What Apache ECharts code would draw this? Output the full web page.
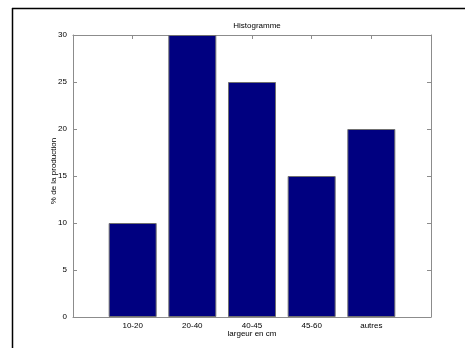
<!DOCTYPE html>
<html><head><meta charset="utf-8">
<script src="https://cdn.jsdelivr.net/npm/echarts@6/dist/echarts.min.js"></script>
<style>html,body{margin:0;padding:0;background:#fff}#c{width:465px;height:348px}</style>
</head><body><div id="c"></div>
<script>
const categories = ['10-20', '20-40', '40-45', '45-60', 'autres'];
const values = [10, 30, 25, 15, 20];
const yTicks = [0, 5, 10, 15, 20, 25, 30];
const titleText = 'Histogramme';
const xName = 'largeur en cm';
const yName = '% de la production';

const font = 'Liberation Sans, Arial, Helvetica, sans-serif';
const fs = 8;
const axisGray = '#8c8c8c';
const chart = echarts.init(document.getElementById('c'), null, {renderer: 'canvas'});
const barData = categories.map((c, i) => [i + 1, values[i]]);
const lineStyle = {show: true, onZero: false, lineStyle: {color: axisGray, width: 1}};
const tickStyle = {show: true, inside: true, length: 4, lineStyle: {color: axisGray}};
chart.setOption({
  animation: false,
  backgroundColor: '#fff',
  title: {text: titleText, left: 252, top: 17, textAlign: 'center',
    textStyle: {fontFamily: font, fontSize: fs, fontWeight: 'normal', color: '#000'}},
  grid: {left: 73, top: 35, right: 34, bottom: 31, containLabel: false},
  xAxis: [{
    type: 'value', min: 0, max: categories.length + 1, interval: 1, position: 'bottom',
    name: xName, nameLocation: 'middle', nameGap: 13, nameMoveOverlap: false,
    nameTextStyle: {fontFamily: font, fontSize: fs, color: '#000'},
    axisLine: lineStyle, axisTick: tickStyle,
    axisLabel: {fontFamily: font, fontSize: fs, color: '#000', margin: 5,
      formatter: v => (v >= 1 && v <= categories.length) ? categories[v - 1] : ''},
    splitLine: {show: false}
  }, {
    type: 'value', min: 0, max: categories.length + 1, interval: 1, position: 'top',
    axisLine: lineStyle, axisTick: tickStyle,
    axisLabel: {show: false}, splitLine: {show: false}
  }],
  yAxis: [{
    type: 'value', min: yTicks[0], max: yTicks[yTicks.length - 1], interval: 5, position: 'left',
    name: yName, nameLocation: 'middle', nameGap: 15, nameRotate: 90, nameMoveOverlap: false,
    nameTextStyle: {fontFamily: font, fontSize: fs, color: '#000', padding: [0, 0, 0, 10]},
    axisLine: lineStyle, axisTick: tickStyle,
    axisLabel: {fontFamily: font, fontSize: fs, color: '#000', margin: 6},
    splitLine: {show: false}
  }, {
    type: 'value', min: yTicks[0], max: yTicks[yTicks.length - 1], interval: 5, position: 'right',
    axisLine: lineStyle, axisTick: tickStyle,
    axisLabel: {show: false}, splitLine: {show: false}
  }],
  series: [{
    type: 'bar', xAxisIndex: 0, yAxisIndex: 0, data: barData, barWidth: 48,
    itemStyle: {color: '#000080', borderColor: '#707070', borderWidth: 1}
  }],
  graphic: [
    {type: 'line', shape: {x1: 12, y1: 8.5, x2: 465, y2: 8.5}, style: {stroke: '#000', lineWidth: 1.5}},
    {type: 'line', shape: {x1: 12.5, y1: 8, x2: 12.5, y2: 348}, style: {stroke: '#000', lineWidth: 1.5}}
  ]
});
</script></body></html>
